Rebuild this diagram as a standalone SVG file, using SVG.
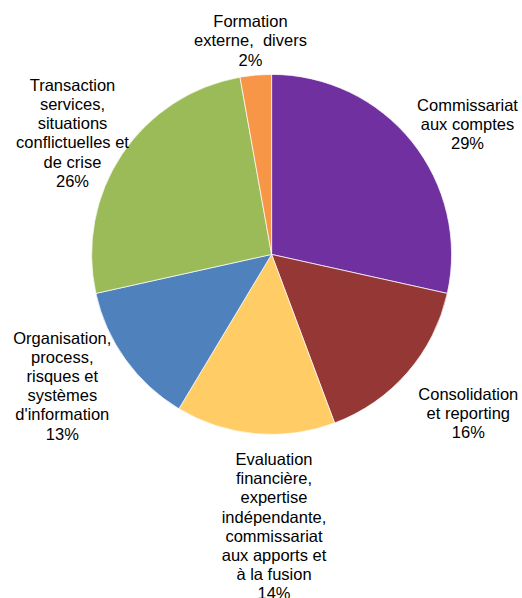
<svg xmlns="http://www.w3.org/2000/svg" width="522" height="598" viewBox="0 0 522 598">
<style>
.s{stroke:#ffffff;stroke-width:0.7;stroke-linejoin:round}
text{font-family:"Liberation Sans",Arial,sans-serif;font-size:16.5px;fill:#000;text-anchor:middle}
</style>
<rect width="522" height="598" fill="#ffffff"/>
<g id="slices">
<g id="commissariat"><path class="s" fill="#7030A0" d="M271.6,254.4 L271.6,74.4 A180,180 0 0 1 447.3,293.4 Z"/></g>
<g id="consolidation"><path class="s" fill="#953735" d="M271.6,254.4 L447.3,293.4 A180,180 0 0 1 334.6,423.0 Z"/></g>
<g id="evaluation"><path class="s" fill="#FFCC66" d="M271.6,254.4 L334.6,423.0 A180,180 0 0 1 178.9,408.7 Z"/></g>
<g id="organisation"><path class="s" fill="#4F81BD" d="M271.6,254.4 L178.9,408.7 A180,180 0 0 1 95.9,293.4 Z"/></g>
<g id="transaction"><path class="s" fill="#9BBB59" d="M271.6,254.4 L95.9,293.4 A180,180 0 0 1 240.0,77.2 Z"/></g>
<g id="formation"><path class="s" fill="#F79646" d="M271.6,254.4 L240.0,77.2 A180,180 0 0 1 271.6,74.4 Z"/></g>
</g>
<g id="labels">
<g id="label-formation">
<text x="250.5" y="27">Formation</text>
<text x="250.5" y="46" xml:space="preserve">externe,  divers</text>
<text x="250.5" y="65.5">2%</text>
</g>
<g id="label-transaction">
<text x="72.5" y="90.8">Transaction</text>
<text x="72.5" y="110">services,</text>
<text x="72.5" y="129.2">situations</text>
<text x="72.5" y="148.4">conflictuelles et</text>
<text x="72.5" y="167.6">de crise</text>
<text x="72.5" y="186.8">26%</text>
</g>
<g id="label-commissariat">
<text x="467.5" y="110.8">Commissariat</text>
<text x="467.5" y="130">aux comptes</text>
<text x="467.5" y="149.2">29%</text>
</g>
<g id="label-organisation">
<text x="62.3" y="344">Organisation,</text>
<text x="62.3" y="363.1">process,</text>
<text x="62.3" y="382.2">risques et</text>
<text x="62.3" y="401.3">systèmes</text>
<text x="62.3" y="420.4">d'information</text>
<text x="62.3" y="439.5">13%</text>
</g>
<g id="label-consolidation">
<text x="468.3" y="400">Consolidation</text>
<text x="468.3" y="419.2">et reporting</text>
<text x="468.3" y="438.4">16%</text>
</g>
<g id="label-evaluation">
<text x="274" y="465">Evaluation</text>
<text x="274" y="484.2">financière,</text>
<text x="274" y="503.4">expertise</text>
<text x="274" y="522.6">indépendante,</text>
<text x="274" y="541.8">commissariat</text>
<text x="274" y="561">aux apports et</text>
<text x="274" y="580.2">à la fusion</text>
<text x="274" y="599.4">14%</text>
</g>
</g>
</svg>
